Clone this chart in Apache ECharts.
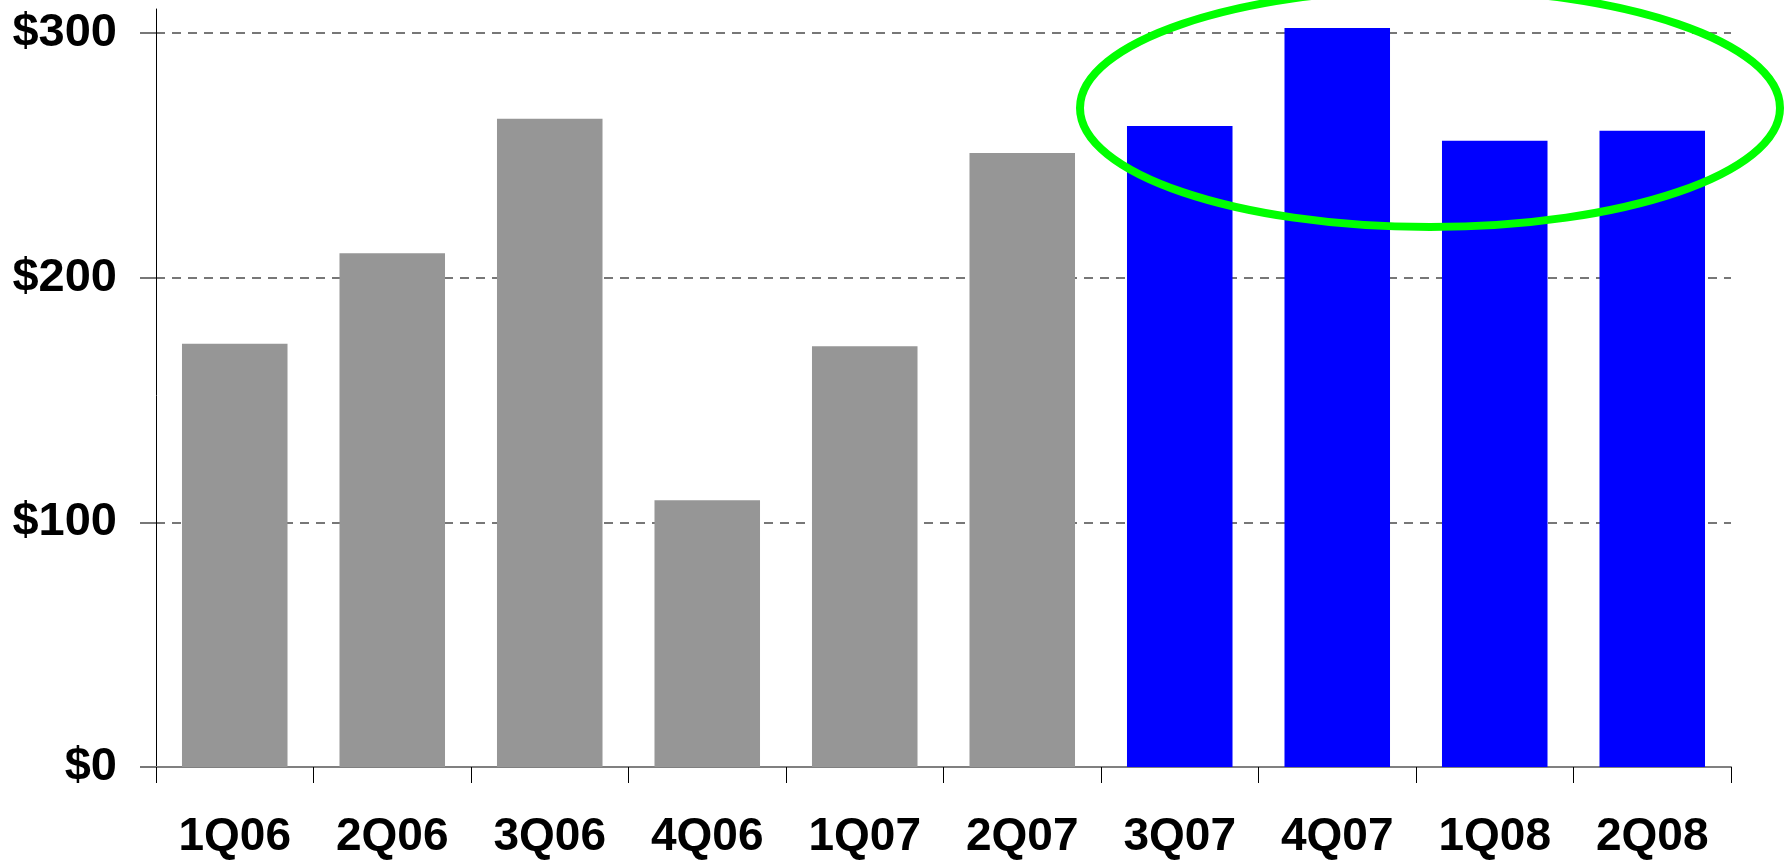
<!DOCTYPE html>
<html>
<head>
<meta charset="utf-8">
<script src="https://cdn.jsdelivr.net/npm/echarts@6/dist/echarts.min.js"></script>
<style>
html,body{margin:0;padding:0;background:#fff;}
#c{width:1788px;height:862px;}
</style>
</head>
<body>
<div id="c"></div>
<script>
const categories = ['1Q06','2Q06','3Q06','4Q06','1Q07','2Q07','3Q07','4Q07','1Q08','2Q08'];
const values = [173, 210, 265, 109, 172, 251, 262, 302, 256, 260];
const highlighted = [false, false, false, false, false, false, true, true, true, true];
const yTicks = [0, 100, 200, 300];

const GRAY = '#969696';
const BLUE = '#0000FF';
const FONT = "'Liberation Sans', Arial, sans-serif";

const chart = echarts.init(document.getElementById('c'));
chart.setOption({
  backgroundColor: '#fff',
  animation: false,
  grid: [
    { left: 156, right: 57, top: 33, bottom: 95 },
    { left: 156, right: 57, top: 9, bottom: 80 }
  ],
  xAxis: [
    {
      type: 'category',
      gridIndex: 0,
      data: categories,
      boundaryGap: true,
      axisLine: { show: true, lineStyle: { color: '#808080', width: 2 } },
      axisTick: { show: true, length: 16, lineStyle: { color: '#000', width: 1 } },
      axisLabel: { color: '#000', fontFamily: FONT, fontWeight: 'bold', fontSize: 46, margin: 47 }
    },
    { type: 'value', gridIndex: 1, show: false, min: 0, max: 1 }
  ],
  yAxis: [
    {
      type: 'value',
      gridIndex: 0,
      min: yTicks[0],
      max: yTicks[yTicks.length - 1],
      interval: 100,
      axisLine: { show: false },
      axisTick: { show: true, length: 16, lineStyle: { color: '#777', width: 2 } },
      axisLabel: {
        color: '#000', fontFamily: FONT, fontWeight: 'bold', fontSize: 47, margin: 39,
        formatter: v => '$' + v
      },
      splitLine: { show: true, lineStyle: { color: '#777', width: 2, type: [9, 7] } }
    },
    {
      type: 'value',
      gridIndex: 1,
      min: 0, max: 1,
      axisLine: { show: true, lineStyle: { color: '#000', width: 1 } },
      axisTick: { show: false },
      axisLabel: { show: false },
      splitLine: { show: false }
    }
  ],
  series: [
    {
      type: 'bar',
      xAxisIndex: 0,
      yAxisIndex: 0,
      barWidth: '67%',
      clip: false,
      data: values.map((v, i) => ({
        value: v,
        itemStyle: { color: highlighted[i] ? BLUE : GRAY }
      })),
      z: 1
    }
  ],
  graphic: [
    {
      type: 'ellipse',
      shape: { cx: 1430, cy: 108, rx: 350, ry: 119 },
      style: { fill: 'none', stroke: '#00FF00', lineWidth: 8 },
      z: 100
    }
  ]
});
</script>
</body>
</html>
